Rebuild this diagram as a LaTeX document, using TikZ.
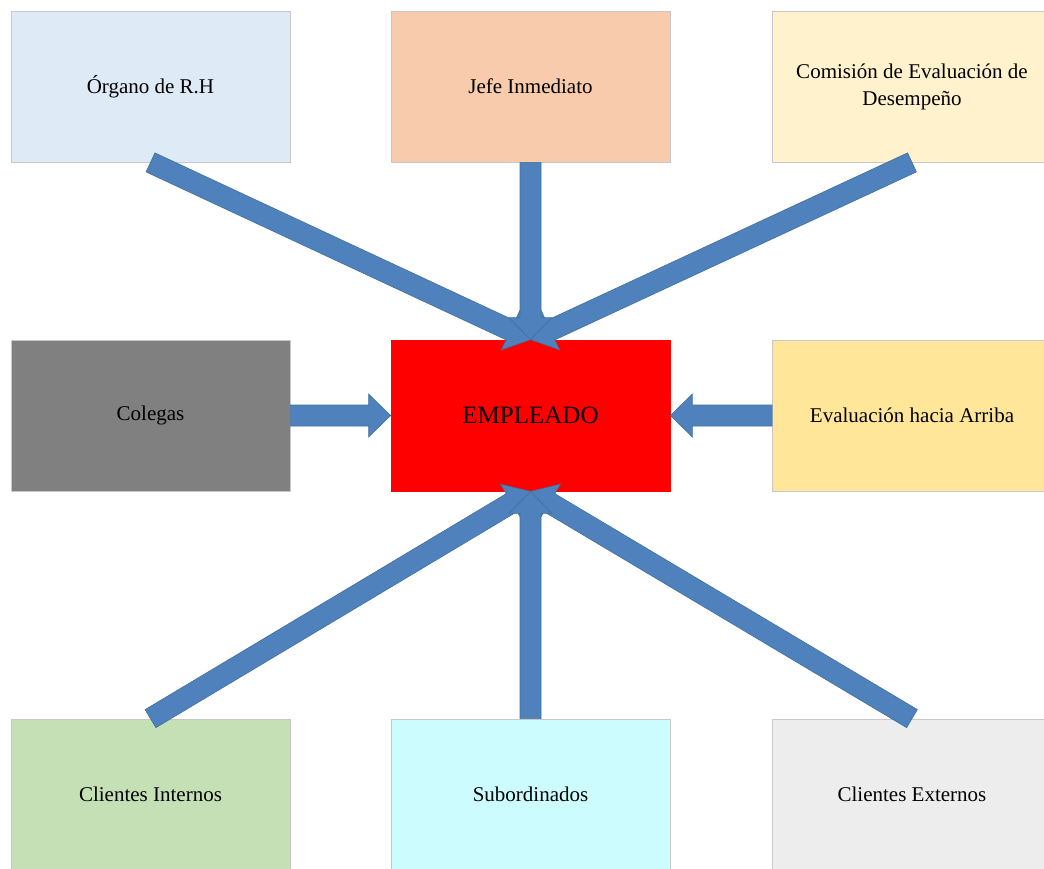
\documentclass[tikz,border=0pt]{standalone}
\usepackage{fontspec}
\setmainfont{Liberation Serif}
\usetikzlibrary{calc}
\definecolor{cOrg}{HTML}{DEEAF6}
\definecolor{cJefe}{HTML}{F8CBAD}
\definecolor{cCom}{HTML}{FFF2CC}
\definecolor{cCol}{HTML}{808080}
\definecolor{cEmp}{HTML}{FF0000}
\definecolor{cEva}{HTML}{FFE699}
\definecolor{cCli}{HTML}{C5E0B4}
\definecolor{cSub}{HTML}{CCFCFD}
\definecolor{cExt}{HTML}{EDEDED}
\definecolor{cBord}{HTML}{C8C8C8}
\definecolor{cArr}{HTML}{4F81BD}
\definecolor{cArrL}{HTML}{41719C}
\newcommand\blkarrow[2]{%
  \coordinate (bS) at (#1);
  \coordinate (bT) at (#2);
  \coordinate (bH) at ($(bT)!22pt!(bS)$);
  \filldraw[barrow] ($(bS)!10.5pt!90:(bT)$) -- ($(bH)!10.5pt!-90:(bS)$)
    -- ($(bH)!21.5pt!-90:(bS)$) -- (bT) -- ($(bH)!21.5pt!90:(bS)$)
    -- ($(bH)!10.5pt!90:(bS)$) -- ($(bS)!10.5pt!-90:(bT)$) -- cycle;
}
\begin{document}
\begin{tikzpicture}[x=1pt,y=-1pt,
  box/.style={draw=cBord, line width=0.8pt, minimum width=279pt, minimum height=151pt,
    inner sep=0pt, align=center, font=\fontsize{21}{27}\selectfont},
  barrow/.style={fill=cArr, draw=cArrL, line width=0.6pt, line join=miter}]
\useasboundingbox (0,0) rectangle (1044,868);
\clip (0,0) rectangle (1044,868);
\node[box, fill=cOrg] (org) at (150.5,86.5) {Órgano de R.H};
\node[box, fill=cJefe] (jefe) at (530.5,86.5) {Jefe Inmediato};
\node[box, fill=cCom] (com) at (912,86.5) {Comisión de Evaluación de\\Desempeño};
\node[box, fill=cCol] (col) at (150.5,415.5) {Colegas};
\node[box, fill=cEmp, draw=cEmp, font=\fontsize{25}{29}\selectfont] (emp) at (530.5,415.5) {EMPLEADO};
\node[box, fill=cEva] (eva) at (912,415.5) {Evaluación hacia Arriba};
\node[box, fill=cCli] (cli) at (150.5,794.5) {Clientes Internos};
\node[box, fill=cSub] (sub) at (530.5,794.5) {Subordinados};
\node[box, fill=cExt] (ext) at (912,794.5) {Clientes Externos};
\blkarrow{org.south}{emp.north}
\blkarrow{com.south}{emp.north}
\blkarrow{jefe.south}{emp.north}
\blkarrow{col.east}{emp.west}
\blkarrow{eva.west}{emp.east}
\blkarrow{cli.north}{emp.south}
\blkarrow{ext.north}{emp.south}
\blkarrow{sub.north}{emp.south}
\end{tikzpicture}
\end{document}
